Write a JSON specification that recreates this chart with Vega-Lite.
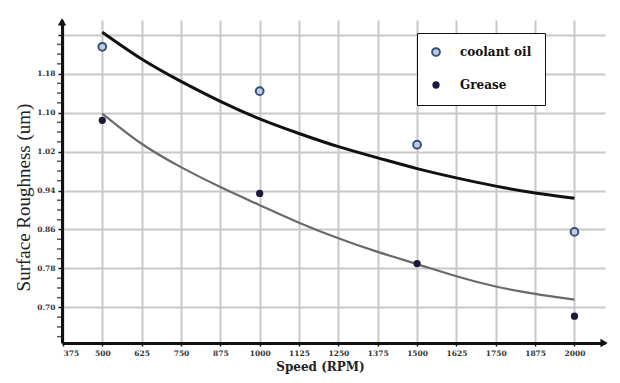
{
  "$schema": "https://vega.github.io/schema/vega-lite/v6.json",
  "width": 543,
  "height": 323,
  "autosize": {"type": "none"},
  "padding": {"left": 62, "top": 20, "right": 15, "bottom": 40},
  "background": "#ffffff",
  "config": {
    "view": {"stroke": null},
    "font": "DejaVu Serif",
    "legend": {"labelFont": "DejaVu Serif", "labelFontWeight": "bold", "labelFontSize": 12}
  },
  "datasets": {
    "points": [
      {"speed": 500, "roughness": 1.235, "series": "coolant oil"},
      {"speed": 1000, "roughness": 1.144, "series": "coolant oil"},
      {"speed": 1500, "roughness": 1.034, "series": "coolant oil"},
      {"speed": 2000, "roughness": 0.855, "series": "coolant oil"},
      {"speed": 500, "roughness": 1.084, "series": "Grease"},
      {"speed": 1000, "roughness": 0.934, "series": "Grease"},
      {"speed": 1500, "roughness": 0.79, "series": "Grease"},
      {"speed": 2000, "roughness": 0.682, "series": "Grease"}
    ],
    "curves": [
      {"speed": 500, "fit": 1.265, "curve": "coolant"},
      {"speed": 625, "fit": 1.21, "curve": "coolant"},
      {"speed": 750, "fit": 1.164, "curve": "coolant"},
      {"speed": 875, "fit": 1.123, "curve": "coolant"},
      {"speed": 1000, "fit": 1.087, "curve": "coolant"},
      {"speed": 1125, "fit": 1.057, "curve": "coolant"},
      {"speed": 1250, "fit": 1.03, "curve": "coolant"},
      {"speed": 1375, "fit": 1.007, "curve": "coolant"},
      {"speed": 1500, "fit": 0.985, "curve": "coolant"},
      {"speed": 1625, "fit": 0.966, "curve": "coolant"},
      {"speed": 1750, "fit": 0.949, "curve": "coolant"},
      {"speed": 1875, "fit": 0.935, "curve": "coolant"},
      {"speed": 2000, "fit": 0.924, "curve": "coolant"},
      {"speed": 500, "fit": 1.098, "curve": "grease"},
      {"speed": 625, "fit": 1.036, "curve": "grease"},
      {"speed": 750, "fit": 0.988, "curve": "grease"},
      {"speed": 875, "fit": 0.947, "curve": "grease"},
      {"speed": 1000, "fit": 0.91, "curve": "grease"},
      {"speed": 1125, "fit": 0.874, "curve": "grease"},
      {"speed": 1250, "fit": 0.842, "curve": "grease"},
      {"speed": 1375, "fit": 0.814, "curve": "grease"},
      {"speed": 1500, "fit": 0.789, "curve": "grease"},
      {"speed": 1625, "fit": 0.764, "curve": "grease"},
      {"speed": 1750, "fit": 0.743, "curve": "grease"},
      {"speed": 1875, "fit": 0.728, "curve": "grease"},
      {"speed": 2000, "fit": 0.716, "curve": "grease"}
    ],
    "arrows": [
      {"speed": 372, "roughness": 1.286, "dir": "up"},
      {"speed": 2094, "roughness": 0.627, "dir": "right"}
    ],
    "minor": [
      {"speed": 372, "roughness": 0.64}, {"speed": 372, "roughness": 0.66}, {"speed": 372, "roughness": 0.68},
      {"speed": 372, "roughness": 0.72}, {"speed": 372, "roughness": 0.74}, {"speed": 372, "roughness": 0.76},
      {"speed": 372, "roughness": 0.8}, {"speed": 372, "roughness": 0.82}, {"speed": 372, "roughness": 0.84},
      {"speed": 372, "roughness": 0.88}, {"speed": 372, "roughness": 0.9}, {"speed": 372, "roughness": 0.92},
      {"speed": 372, "roughness": 0.96}, {"speed": 372, "roughness": 0.98}, {"speed": 372, "roughness": 1.0},
      {"speed": 372, "roughness": 1.04}, {"speed": 372, "roughness": 1.06}, {"speed": 372, "roughness": 1.08},
      {"speed": 372, "roughness": 1.12}, {"speed": 372, "roughness": 1.14}, {"speed": 372, "roughness": 1.16},
      {"speed": 372, "roughness": 1.2}, {"speed": 372, "roughness": 1.22}, {"speed": 372, "roughness": 1.24}
    ]
  },
  "layer": [
    {
      "data": {"name": "curves"},
      "transform": [{"filter": "datum.curve == 'coolant'"}],
      "mark": {"type": "line", "color": "#111111", "strokeWidth": 3, "interpolate": "natural"},
      "encoding": {
        "x": {
          "field": "speed", "type": "quantitative",
          "scale": {"domain": [372, 2097], "nice": false, "zero": false},
          "axis": {
            "values": [375, 500, 625, 750, 875, 1000, 1125, 1250, 1375, 1500, 1625, 1750, 1875, 2000],
            "format": "d",
            "title": "Speed (RPM)",
            "titleFont": "DejaVu Serif", "titleFontSize": 12, "titleFontWeight": "bold", "titleColor": "#222222",
            "titlePadding": 5, "titleX": 258,
            "labelFont": "DejaVu Serif", "labelFontSize": 7.5, "labelFontWeight": "bold", "labelColor": "#333333",
            "labelPadding": 3,
            "domainColor": "#111111", "domainWidth": 3,
            "tickColor": "#111111", "tickSize": 3, "tickWidth": 1.5,
            "grid": true, "gridColor": "#c8c8c8", "gridWidth": 2,
            "labelOverlap": false
          }
        },
        "y": {
          "field": "fit", "type": "quantitative",
          "scale": {"domain": [0.627, 1.29], "nice": false, "zero": false},
          "axis": {
            "values": [0.7, 0.78, 0.86, 0.94, 1.02, 1.1, 1.18, 1.26],
            "format": ".2f",
            "labelExpr": "datum.value > 1.2 ? '' : datum.label",
            "title": "Surface Roughness (um)",
            "titleFont": "Liberation Serif", "titleFontSize": 19, "titleFontWeight": "normal", "titleColor": "#222222",
            "titlePadding": 3, "titleY": 177,
            "labelFont": "DejaVu Serif", "labelFontSize": 7.5, "labelFontWeight": "bold", "labelColor": "#333333",
            "labelPadding": 3,
            "domainColor": "#111111", "domainWidth": 3,
            "tickColor": "#111111", "tickSize": 4, "tickWidth": 1.5,
            "grid": true, "gridColor": "#c8c8c8", "gridWidth": 2
          }
        }
      }
    },
    {
      "data": {"name": "curves"},
      "transform": [{"filter": "datum.curve == 'grease'"}],
      "mark": {"type": "line", "color": "#6a6a6a", "strokeWidth": 2.2, "interpolate": "natural"},
      "encoding": {
        "x": {"field": "speed", "type": "quantitative"},
        "y": {"field": "fit", "type": "quantitative"}
      }
    },
    {
      "data": {"name": "minor"},
      "mark": {"type": "tick", "orient": "horizontal", "color": "#111111", "thickness": 1.5, "size": 4, "xOffset": -3},
      "encoding": {
        "x": {"field": "speed", "type": "quantitative"},
        "y": {"field": "roughness", "type": "quantitative"}
      }
    },
    {
      "data": {"name": "points"},
      "mark": {"type": "point", "shape": "circle", "strokeWidth": 2, "opacity": 1},
      "encoding": {
        "x": {"field": "speed", "type": "quantitative"},
        "y": {"field": "roughness", "type": "quantitative"},
        "fill": {
          "field": "series", "type": "nominal",
          "scale": {"domain": ["coolant oil", "Grease"], "range": ["#c4ccda", "#1a1a3c"]},
          "legend": {
            "title": null, "orient": "none", "legendX": 355, "legendY": 13,
            "labelFont": "DejaVu Serif", "labelFontSize": 12, "labelFontWeight": "bold", "labelColor": "#111111",
            "labelOffset": 18, "rowPadding": 18, "padding": 13,
            "strokeColor": "#111111", "fillColor": "#ffffff", "symbolStrokeWidth": 2
          }
        },
        "stroke": {
          "field": "series", "type": "nominal",
          "scale": {"domain": ["coolant oil", "Grease"], "range": ["#34507e", "#1a1a3c"]},
          "legend": {
            "title": null, "orient": "none", "legendX": 355, "legendY": 13,
            "labelFont": "DejaVu Serif", "labelFontSize": 12, "labelFontWeight": "bold", "labelColor": "#111111",
            "labelOffset": 18, "rowPadding": 18, "padding": 13,
            "strokeColor": "#111111", "fillColor": "#ffffff", "symbolStrokeWidth": 2
          }
        },
        "size": {
          "field": "series", "type": "nominal",
          "scale": {"domain": ["coolant oil", "Grease"], "range": [60, 28]},
          "legend": {
            "title": null, "orient": "none", "legendX": 355, "legendY": 13,
            "labelFont": "DejaVu Serif", "labelFontSize": 12, "labelFontWeight": "bold", "labelColor": "#111111",
            "labelOffset": 18, "rowPadding": 18, "padding": 13,
            "strokeColor": "#111111", "fillColor": "#ffffff", "symbolStrokeWidth": 2
          }
        }
      }
    },
    {
      "data": {"name": "arrows"},
      "mark": {"type": "point", "filled": true, "color": "#111111", "size": 70, "opacity": 1},
      "encoding": {
        "x": {"field": "speed", "type": "quantitative"},
        "y": {"field": "roughness", "type": "quantitative"},
        "shape": {
          "field": "dir", "type": "nominal",
          "scale": {"domain": ["up", "right"], "range": ["triangle-up", "triangle-right"]},
          "legend": null
        }
      }
    }
  ]
}
